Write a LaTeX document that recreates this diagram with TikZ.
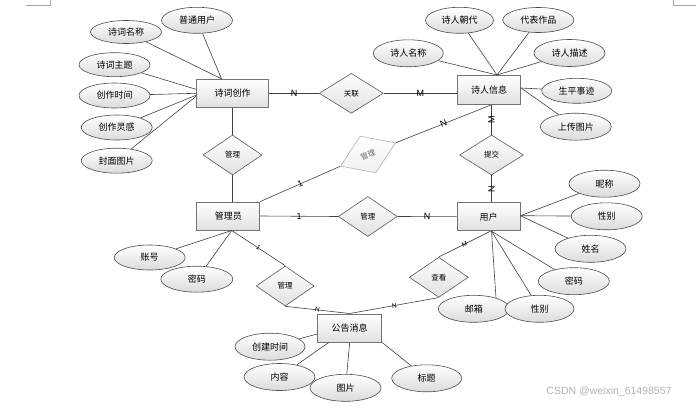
\documentclass[tikz,border=0pt]{standalone}
\usepackage{fontspec}
\setmainfont{Noto Sans CJK SC}
\newfontfamily\cardfont{Liberation Sans}
\usetikzlibrary{shapes.geometric}

\begin{document}
\begin{tikzpicture}[x=1pt, y=-1pt,
    entity/.style={rectangle, draw=black!55, line width=1pt, top color=white, bottom color=black!12,
        minimum width=63pt, minimum height=28pt, inner sep=0pt, font=\fontsize{9}{9}\selectfont},
    attr/.style={ellipse, draw=black!70, line width=0.6pt, top color=white, bottom color=black!14,
        minimum width=71pt, minimum height=26pt, inner sep=0pt, font=\fontsize{9}{9}\selectfont},
    rel/.style={diamond, draw=black!65, line width=0.6pt, top color=white, bottom color=black!12,
        minimum width=59pt, minimum height=40pt, inner sep=0pt, font=\fontsize{7.5}{7.5}\selectfont},
    card/.style={font=\cardfont\fontsize{9}{9}\selectfont, inner sep=1pt},
    smallcard/.style={card, font=\cardfont\fontsize{6.5}{6.5}\selectfont},
    link/.style={draw=black!75, line width=0.6pt}]
    \useasboundingbox (0,0) rectangle (696,407);
    \draw[black!35] (26,5) -- (50,5) -- (50,0);
    \draw[black!35] (673.3,0) -- (673.3,5) -- (696,5);

    \node[entity, minimum width=72pt] (chuangzuo) at (232.5,93.3) {诗词创作};
    \node[entity, minimum height=29pt] (shiren) at (489,90) {诗人信息};
    \node[entity] (guanliyuan) at (228.3,216) {管理员};
    \node[entity] (yonghu) at (488.5,216.7) {用户};
    \node[entity, minimum width=64pt] (gonggao) at (349.7,328) {公告消息};

    \node[rel, minimum width=64pt] (guanlian) at (351.3,93.3) {关联};
    \node[rel] (guanliA) at (232.5,155) {管理};
    \node[rel, draw=black!30, top color=white, bottom color=black!6, text=black!60,
        minimum width=60pt, rotate=23] (guanliB) at (368,154.5) {管理};
    \node[rel, minimum width=64pt] (tijiao) at (491.5,155) {提交};
    \node[rel] (guanliC) at (367.8,216.5) {管理};
    \node[rel, minimum width=58pt] (guanliD) at (285.2,286) {管理};
    \node[rel] (chakan) at (438.8,277.3) {查看};

    \node[attr] (putong) at (197,20.3) {普通用户};
    \node[attr, minimum height=23pt] (scmingcheng) at (126,32) {诗词名称};
    \node[attr, minimum height=24pt] (zhuti) at (114.5,64.7) {诗词主题};
    \node[attr, minimum height=25pt] (shijian) at (114.5,95.5) {创作时间};
    \node[attr, minimum height=25pt] (linggan) at (116.7,127.5) {创作灵感};
    \node[attr, minimum height=25pt] (fengmian) at (116.7,160.7) {封面图片};

    \node[attr, minimum width=68pt] (chaodai) at (459.5,20.3) {诗人朝代};
    \node[attr, minimum height=25pt] (daibiao) at (538.3,20) {代表作品};
    \node[attr, minimum width=70pt, minimum height=27pt] (srmingcheng) at (408.3,53.3) {诗人名称};
    \node[attr, minimum height=27pt] (miaoshu) at (569.5,53) {诗人描述};
    \node[attr, minimum width=70pt, minimum height=25pt] (shengping) at (576.7,90.8) {生平事迹};
    \node[attr, minimum height=27pt] (shangchuan) at (575.8,126.7) {上传图片};

    \node[attr, minimum height=27pt] (nicheng) at (604.5,183.7) {昵称};
    \node[attr, minimum height=27pt] (xingbieA) at (606.7,216.3) {性别};
    \node[attr, minimum height=27pt] (xingming) at (590.5,248.8) {姓名};
    \node[attr, minimum height=27pt] (mimaA) at (573.8,281.2) {密码};
    \node[attr, minimum height=27pt] (youxiang) at (473.8,308.8) {邮箱};
    \node[attr, minimum width=69pt, minimum height=27pt] (xingbieB) at (539.5,308.8) {性别};

    \node[attr, minimum height=25pt] (zhanghao) at (149.7,257.5) {账号};
    \node[attr, minimum width=72pt] (mimaB) at (196.8,279.2) {密码};

    \node[attr, minimum width=70pt, minimum height=27pt] (chuangjian) at (270,346.7) {创建时间};
    \node[attr, minimum height=27pt] (neirong) at (279.5,377) {内容};
    \node[attr, minimum height=27pt] (tupian) at (345.5,387.8) {图片};
    \node[attr, minimum width=70pt, minimum height=27pt] (biaoti) at (426.7,378.3) {标题};

    \node[font=\cardfont\fontsize{10.5}{10.5}\selectfont, text=black!30] (csdn) at (609,391.7) {CSDN @weixin\_61498557};

    \draw[link] (chuangzuo.east) -- node[card] {N} (guanlian.west);
    \draw[link] (guanlian.east) -- node[card] {M} (guanlian.east -| shiren.west);
    \draw[link] (chuangzuo.south) -- (guanliA.north);
    \draw[link] (guanliA.south) -- (guanliA.south |- guanliyuan.north);
    \draw[link] (guanliyuan.north east) -- node[card, sloped] {1} (guanliB.west);
    \draw[link] (guanliB.east) -- node[card, sloped] {N} ([xshift=2pt]shiren.south);
    \draw[link] (guanliyuan.east) -- node[card] {1} (guanliC.west);
    \draw[link] (guanliC.east) -- node[card] {N} (yonghu.west);
    \draw[link] (shiren.south -| tijiao.north) -- node[card, rotate=90] {M} (tijiao.north);
    \draw[link] (tijiao.south) -- node[card, rotate=90] {N} (tijiao.south |- yonghu.north);
    \draw[link] ([xshift=3.4pt]guanliyuan.south) -- node[smallcard, sloped] {1} (guanliD.north);
    \draw[link] (guanliD.south) -- node[smallcard, sloped] {N} (gonggao.north);
    \draw[link] ([xshift=2pt]yonghu.south) -- node[smallcard, sloped] {M} (chakan.north);
    \draw[link] (chakan.south) -- node[smallcard, sloped] {N} (gonggao.north);

    \foreach \a in {putong, scmingcheng}
        \draw[link] (\a) -- ([xshift=-11pt]chuangzuo.north);
    \draw[link] (zhuti) -- ([yshift=4pt]chuangzuo.west);
    \draw[link] (shijian) -- (chuangzuo.west);
    \draw[link] (linggan) -- ([yshift=-2pt]chuangzuo.west);
    \draw[link] (fengmian) -- ([yshift=-3pt]chuangzuo.west);

    \foreach \a in {srmingcheng, chaodai, daibiao, miaoshu}
        \draw[link] (\a) -- ([xshift=8pt]shiren.north);
    \foreach \a in {shengping, shangchuan}
        \draw[link] (\a) -- ([yshift=2pt]shiren.east);

    \foreach \a in {nicheng, xingbieA, xingming}
        \draw[link] (\a) -- ([yshift=1pt]yonghu.east);
    \foreach \a in {mimaA, xingbieB}
        \draw[link] (\a) -- ([xshift=3pt]yonghu.south);
    \draw[link] (youxiang.26) -- ([xshift=3pt]yonghu.south);

    \foreach \a in {zhanghao, mimaB}
        \draw[link] (\a) -- ([xshift=3.4pt]guanliyuan.south);

    \draw[link] (chuangjian) -- ([yshift=-6pt]gonggao.west);
    \draw[link] (neirong) -- ([xshift=-21pt]gonggao.south);
    \draw[link] (tupian) -- (gonggao.south);
    \draw[link] (biaoti) -- (gonggao.south east);
\end{tikzpicture}
\end{document}
